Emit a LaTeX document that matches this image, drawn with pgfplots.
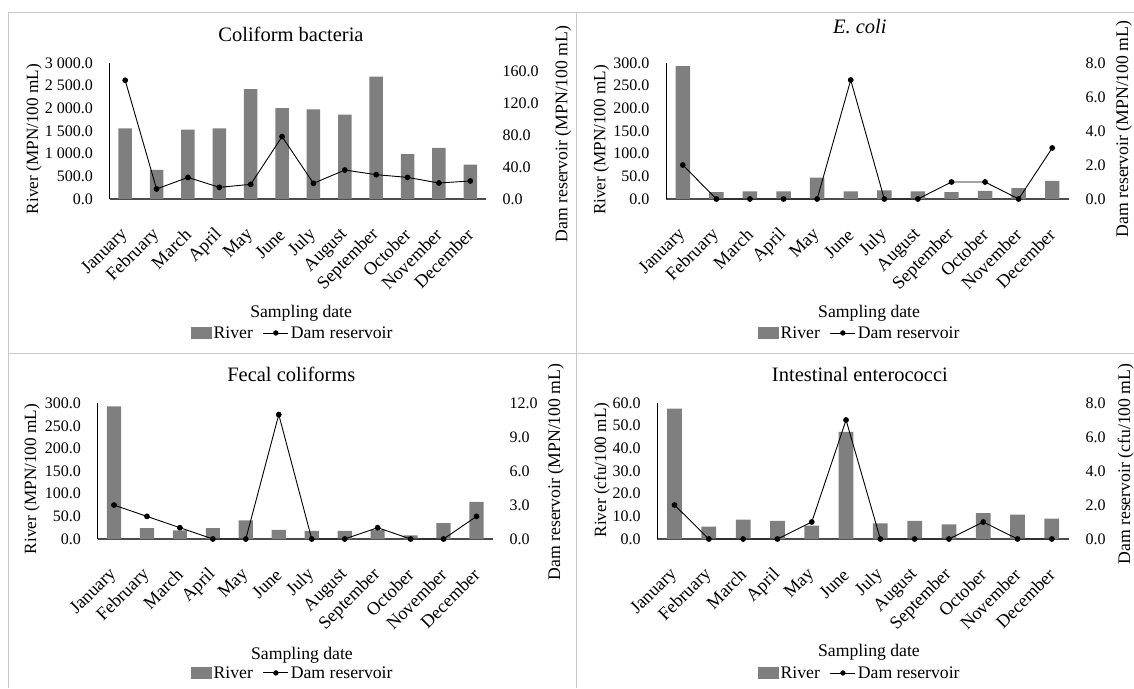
\documentclass[border=0pt]{standalone}
\usepackage{fontspec}
\setmainfont{Liberation Serif}
\usepackage{pgfplots}
\pgfplotsset{compat=1.18}

\newcommand\fs[1]{\fontsize{#1}{#1}\selectfont}
\definecolor{barcol}{HTML}{7F7F7F}
\definecolor{framecol}{HTML}{C8C8C8}

\pgfplotsset{
  % common frame of every panel
  panel/.style={
    scale only axis,
    xmin=-0.5, xmax=11.5, ymin=0,
    /pgf/number format/assume math mode=true,
    /pgf/number format/.cd, fixed, fixed zerofill, precision=1, 1000 sep={\ },
    /pgfplots/.cd,
    major tick length=0pt,
    tick style={draw=none},
    yticklabel={\fs{16}\pgfmathprintnumber{\tick}},
  },
  % left axis holding the river bars
  riverax/.style={
    panel,
    axis x line*=bottom, axis y line*=left,
    axis line style={-},
    x axis line style={black!70, line width=1.1pt},
    y axis line style={black, line width=0.8pt},
    ybar, bar width=0.43,
    xtick={0,...,11},
    xticklabels={January,February,March,April,May,June,July,August,September,October,November,December},
    xticklabel style={font=\fs{18.2}, rotate=45, anchor=east, inner sep=0pt},
    xticklabel shift=33pt,
    yticklabel style={anchor=east, inner sep=0pt},
    yticklabel shift=16.5pt,
    ylabel style={anchor=center, font=\fs{17.2}},
    xlabel={Sampling date},
    xlabel style={anchor=center, font=\fs{17.7}},
    every axis title/.style={anchor=center, font=\fs{20.5}},
  },
  % right axis holding the dam reservoir line
  damax/.style={
    panel,
    axis x line=none, axis y line*=right,
    y axis line style={draw=none},
    xtick=\empty,
    clip=false,
    yticklabel style={anchor=west, inner sep=0pt},
    yticklabel shift=16.5pt,
    ylabel style={anchor=center, font=\fs{17.7}},
    legend columns=2,
    legend style={draw=none, fill=none, anchor=center, font=\fs{17.7},
      nodes={inner xsep=2pt, inner ysep=0pt},
      /tikz/every even column/.append style={column sep=8pt}},
  },
  riverbar/.style={fill=barcol, draw=none},
  damline/.style={black, line width=0.9pt, mark=*, mark size=2.4pt,
    mark options={solid, fill=black}},
}

% legend entries shared by all panels
\newcommand\damlegend{%
  \addlegendimage{legend image code/.code={\fill[barcol] (0pt,-5.5pt) rectangle (20pt,5.5pt);}}
  \addlegendentry{River}
  \addlegendimage{legend image code/.code={\draw[black, line width=0.9pt] (0pt,0pt) -- (25pt,0pt); \fill[black] (12.5pt,0pt) circle (2.4pt);}}
  \addlegendentry{Dam reservoir}
}

\begin{document}
\begin{tikzpicture}
\useasboundingbox (0pt,0pt) rectangle (1134pt,688pt);

% panel frames
\draw[framecol, line width=1pt] (8pt,0pt) -- (8pt,675.3pt) -- (1134pt,675.3pt);
\draw[framecol, line width=1pt] (576pt,0pt) -- (576pt,675.3pt);
\draw[framecol, line width=1pt] (8pt,334.7pt) -- (1134pt,334.7pt);

% ---------------- Coliform bacteria ----------------
\begin{axis}[riverax, at={(109.5pt,489pt)}, anchor=south west,
  width=376.5pt, height=136pt, ymax=3000, ytick={0,500,...,3000},
  title={Coliform bacteria},
  title style={at={(axis description cs:0.482,1.213)}},
  xlabel style={at={(axis description cs:0.509,-0.838)}},
  ylabel={River (MPN/100 mL)},
  ylabel style={at={(axis description cs:-0.2005,0.441)}}]
\addplot[riverbar] coordinates {(0,1560) (1,640) (2,1530) (3,1560) (4,2425) (5,2005)
  (6,1975) (7,1860) (8,2700) (9,990) (10,1130) (11,760)};
\end{axis}
\begin{axis}[damax, at={(109.5pt,489pt)}, anchor=south west,
  width=376.5pt, height=136pt, ymax=170, ytick={0,40,...,160},
  ylabel={Dam reservoir (MPN/100 mL)},
  ylabel style={at={(axis description cs:1.2045,0.478)}},
  legend style={at={(axis description cs:0.487,-0.985)}}]
\damlegend
\addplot[damline, forget plot] coordinates {(0,148.4) (1,12.5) (2,27) (3,14.6) (4,18.3) (5,78)
  (6,19.6) (7,36.2) (8,30.4) (9,27) (10,20) (11,22.5)};
\end{axis}

% ---------------- E. coli ----------------
\begin{axis}[riverax, at={(666pt,489pt)}, anchor=south west,
  width=403pt, height=136pt, ymax=300, ytick={0,50,...,300},
  title={\textit{E. coli}},
  title style={at={(axis description cs:0.481,1.265)}},
  xlabel style={at={(axis description cs:0.504,-0.838)}},
  ylabel={River (MPN/100 mL)},
  ylabel style={at={(axis description cs:-0.161,0.434)}}]
\addplot[riverbar] coordinates {(0,293) (1,15) (2,17) (3,17) (4,47) (5,17)
  (6,19) (7,17) (8,15) (9,18) (10,24) (11,40)};
\end{axis}
\begin{axis}[damax, at={(666pt,489pt)}, anchor=south west,
  width=403pt, height=136pt, ymax=8, ytick={0,2,...,8},
  ylabel={Dam reservoir (MPN/100 mL)},
  ylabel style={at={(axis description cs:1.136,0.515)}},
  legend style={at={(axis description cs:0.481,-0.985)}}]
\damlegend
\addplot[damline, forget plot] coordinates {(0,2) (1,0) (2,0) (3,0) (4,0) (5,7)
  (6,0) (7,0) (8,1) (9,1) (10,0) (11,3)};
\end{axis}

% ---------------- Fecal coliforms ----------------
\begin{axis}[riverax, at={(97.5pt,149pt)}, anchor=south west,
  width=395.5pt, height=135.7pt, ymax=300, ytick={0,50,...,300},
  title={Fecal coliforms},
  title style={at={(axis description cs:0.490,1.216)}},
  xlabel style={at={(axis description cs:0.517,-0.855)}},
  ylabel={River (MPN/100 mL)},
  ylabel style={at={(axis description cs:-0.1656,0.442)}}]
\addplot[riverbar] coordinates {(0,293) (1,24) (2,19) (3,24) (4,41) (5,20)
  (6,18) (7,18) (8,20) (9,8) (10,35) (11,82)};
\end{axis}
\begin{axis}[damax, at={(97.5pt,149pt)}, anchor=south west,
  width=395.5pt, height=135.7pt, ymax=12, ytick={0,3,...,12},
  ylabel={Dam reservoir (MPN/100 mL)},
  ylabel style={at={(axis description cs:1.159,0.494)}},
  legend style={at={(axis description cs:0.494,-0.987)}}]
\damlegend
\addplot[damline, forget plot] coordinates {(0,3) (1,2) (2,1) (3,0) (4,0) (5,11)
  (6,0) (7,0) (8,1) (9,0) (10,0) (11,2)};
\end{axis}

% ---------------- Intestinal enterococci ----------------
\begin{axis}[riverax, at={(657.4pt,149pt)}, anchor=south west,
  width=411.6pt, height=136pt, ymax=60, ytick={0,10,...,60},
  title={Intestinal enterococci},
  title style={at={(axis description cs:0.492,1.213)}},
  xlabel style={at={(axis description cs:0.514,-0.831)}},
  ylabel={River (cfu/100 mL)},
  ylabel style={at={(axis description cs:-0.1346,0.507)}}]
\addplot[riverbar] coordinates {(0,57.5) (1,5.5) (2,8.6) (3,8.0) (4,5.9) (5,47.3)
  (6,6.9) (7,8.0) (8,6.5) (9,11.4) (10,10.8) (11,9.0)};
\end{axis}
\begin{axis}[damax, at={(657.4pt,149pt)}, anchor=south west,
  width=411.6pt, height=136pt, ymax=8, ytick={0,2,...,8},
  ylabel={Dam reservoir (cfu/100 mL)},
  ylabel style={at={(axis description cs:1.138,0.551)}},
  legend style={at={(axis description cs:0.492,-0.985)}}]
\damlegend
\addplot[damline, forget plot] coordinates {(0,2) (1,0) (2,0) (3,0) (4,1) (5,7)
  (6,0) (7,0) (8,0) (9,1) (10,0) (11,0)};
\end{axis}
\end{tikzpicture}
\end{document}
